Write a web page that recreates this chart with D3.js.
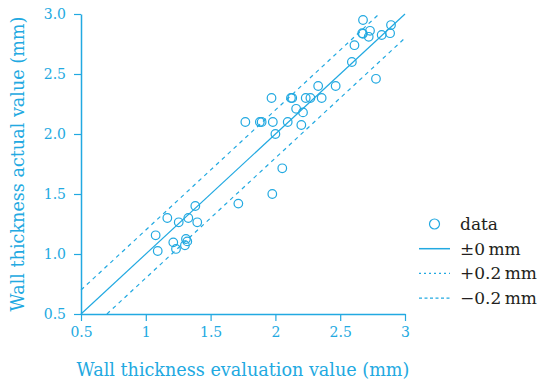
<!DOCTYPE html>
<html>
<head>
<meta charset="utf-8">
<script src="https://cdn.jsdelivr.net/npm/d3@7"></script>
<style>
  body { margin: 0; background: #fff; }
  text { font-family: "DejaVu Serif", serif; }
</style>
</head>
<body>
<div id="chart"></div>
<script>
// evaluation (x) and actual (y) wall thickness, mm
const evalValues = [2.676, 2.892, 2.67, 2.675, 2.73, 2.72, 2.82, 2.885, 2.61, 2.59,
  2.776, 2.33, 2.465, 1.97, 2.12, 2.13, 2.234, 2.27, 2.357, 2.16,
  2.213, 1.768, 1.88, 1.894, 1.98, 2.095, 2.2, 2.0, 2.053, 1.976,
  1.714, 1.382, 1.166, 1.328, 1.254, 1.397, 1.076, 1.31, 1.32, 1.212,
  1.302, 1.233, 1.092];
const actualValues = [2.95, 2.908, 2.84, 2.835, 2.86, 2.81, 2.825, 2.84, 2.74, 2.6,
  2.46, 2.4, 2.4, 2.3, 2.3, 2.3, 2.3, 2.3, 2.3, 2.21,
  2.18, 2.1, 2.1, 2.1, 2.1, 2.1, 2.075, 2.0, 1.714, 1.5,
  1.42, 1.4, 1.3, 1.3, 1.264, 1.264, 1.156, 1.125, 1.105, 1.097,
  1.073, 1.042, 1.025];
const tickValues = [0.5, 1, 1.5, 2, 2.5, 3];
const xTickLabels = ["0.5", "1", "1.5", "2", "2.5", "3"];
const yTickLabels = ["0.5", "1.0", "1.5", "2.0", "2.5", "3.0"];
const lineOffsets = [0, 0.2, -0.2];
const legendLabels = ["data", "\u00b10\u2009mm", "+0.2\u2009mm", "\u22120.2\u2009mm"];

const width = 539, height = 383;
const blue = "#22a9e1";
const margin = {left: 81, top: 14, right: 134, bottom: 69};

const svg = d3.select("#chart").append("svg")
  .attr("width", width)
  .attr("height", height);

const x = d3.scaleLinear().domain([0.5, 3]).range([margin.left, width - margin.right]);
const y = d3.scaleLinear().domain([0.5, 3]).range([height - margin.bottom, margin.top]);

// axes
const xAxis = svg.append("g")
  .attr("transform", `translate(0,${y(0.5)})`)
  .call(d3.axisBottom(x).tickValues(tickValues).tickFormat((d, i) => xTickLabels[i]).tickSize(7).tickSizeOuter(0));
const yAxis = svg.append("g")
  .attr("transform", `translate(${x(0.5)},0)`)
  .call(d3.axisLeft(y).tickValues(tickValues).tickFormat((d, i) => yTickLabels[i]).tickSize(7).tickSizeOuter(0));

[xAxis, yAxis].forEach(g => {
  g.select(".domain").attr("stroke", blue).attr("stroke-width", 1.5);
  g.selectAll(".tick line").attr("stroke", blue).attr("stroke-width", 1.2);
  g.selectAll(".tick text").attr("fill", blue)
    .style("font-family", "DejaVu Serif").style("font-size", "14px");
});
xAxis.selectAll(".tick text").attr("dy", "0.95em");
yAxis.selectAll(".tick text").attr("x", -15);

// reference lines y = x + offset
const line = d3.line().x(d => x(d[0])).y(d => y(d[1]));
lineOffsets.forEach(off => {
  const x0 = Math.max(0.5, 0.5 - off), x1 = Math.min(3, 3 - off);
  svg.append("path")
    .attr("d", line([[x0, x0 + off], [x1, x1 + off]]))
    .attr("fill", "none")
    .attr("stroke", blue)
    .attr("stroke-width", 1.2)
    .attr("stroke-dasharray", off === 0 ? null : "4,4");
});

// data points
svg.append("g")
  .selectAll("circle")
  .data(evalValues.map((v, i) => [v, actualValues[i]]))
  .enter()
  .append("circle")
  .attr("cx", d => x(d[0]))
  .attr("cy", d => y(d[1]))
  .attr("r", 4.3)
  .attr("fill", "none")
  .attr("stroke", blue)
  .attr("stroke-width", 1.2);

// axis titles
svg.append("text")
  .attr("x", (x(0.5) + x(3)) / 2)
  .attr("y", 376)
  .attr("text-anchor", "middle")
  .attr("fill", blue)
  .style("font-size", "17.6px")
  .text("Wall thickness evaluation value (mm)");
svg.append("text")
  .attr("transform", `translate(24,${(y(0.5) + y(3)) / 2}) rotate(-90)`)
  .attr("text-anchor", "middle")
  .attr("fill", blue)
  .style("font-size", "17.6px")
  .text("Wall thickness actual value (mm)");

// legend
const legend = svg.append("g").attr("transform", "translate(419,224)");
legendLabels.forEach((label, i) => {
  const row = legend.append("g").attr("transform", `translate(0,${i * 24.7})`);
  if (i === 0) {
    row.append("circle").attr("cx", 15.5).attr("cy", 0).attr("r", 5)
      .attr("fill", "none").attr("stroke", blue).attr("stroke-width", 1.2);
  } else {
    row.append("line").attr("x1", 0).attr("x2", 31).attr("y1", 0).attr("y2", 0)
      .attr("stroke", blue).attr("stroke-width", i === 1 ? 1.5 : 1.2)
      .attr("stroke-dasharray", i === 1 ? null : (i === 2 ? "2,3" : "3,2.5"));
  }
  row.append("text").attr("x", 41).attr("y", 0).attr("dy", "0.35em")
    .attr("fill", "#231f20").style("font-size", "17px").text(label);
});
</script>
</body>
</html>
